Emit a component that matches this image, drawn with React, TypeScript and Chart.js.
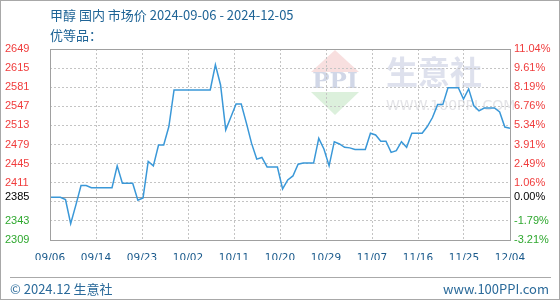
import React, { useEffect, useRef } from 'react';
import { Chart, registerables } from 'chart.js';

Chart.register(...registerables);

const TITLE = '甲醇 国内 市场价 2024-09-06 - 2024-12-05';
const SUBTITLE = '优等品：';
const FOOTER_LEFT = '© 2024.12 生意社';
const FOOTER_RIGHT = 'www.100PPI.com';

const X_LABELS = ['09/06', '09/14', '09/23', '10/02', '10/11', '10/20', '10/29', '11/07', '11/16', '11/25', '12/04'];

const PRICES = [
  2385, 2385, 2385, 2381, 2338, 2371, 2406, 2406, 2402, 2402,
  2402, 2402, 2402, 2441, 2410, 2410, 2410, 2380, 2384, 2449,
  2441, 2478, 2478, 2511, 2576, 2576, 2576, 2576, 2576, 2576,
  2576, 2576, 2621, 2585, 2505, 2528, 2551, 2551, 2517, 2481,
  2453, 2456, 2439, 2439, 2439, 2400, 2416, 2423, 2444, 2446,
  2446, 2446, 2490, 2471, 2441, 2484, 2480, 2474, 2473, 2470,
  2470, 2470, 2499, 2496, 2485, 2485, 2465, 2468, 2484, 2474,
  2499, 2499, 2499, 2511, 2527, 2550, 2550, 2580, 2580, 2580,
  2560, 2578, 2548, 2539, 2544, 2544, 2544, 2537, 2510, 2508,
];

const BASE_PRICE = 2385;
const Y_MIN = 2309;
const Y_MAX = 2649;
const Y_TICKS = [2649, 2615, 2581, 2547, 2513, 2479, 2445, 2411, 2385, 2343, 2309];
const PCT_LABELS = ['11.04%', '9.61%', '8.19%', '6.76%', '5.34%', '3.91%', '2.49%', '1.06%', '0.00%', '-1.79%', '-3.21%'];
const Y_GRID_EXTRA = [2377];

const RED = '#f03c3c';
const GREEN = '#2fa82f';
const BLACK = '#000000';
const BLUE_TEXT = '#1f6496';
const LINE_COLOR = '#3a98d8';
const GRID_COLOR = '#c4c4c4';
const FRAME_COLOR = '#a0a0a0';

const tickColor = (ctx: any) => {
  const v = ctx.tick ? ctx.tick.value : 0;
  if (v > BASE_PRICE) return RED;
  if (v < BASE_PRICE) return GREEN;
  return BLACK;
};

const allYTicks = () =>
  [...Y_TICKS, ...Y_GRID_EXTRA].sort((a, b) => a - b).map((v) => ({ value: v }));

const framePlugin = {
  id: 'frameAndWatermark',
  beforeDraw(chart: any) {
    const { ctx, chartArea } = chart;
    const L = chartArea.left;
    const T = chartArea.top;
    ctx.save();
    const cx = L + 285;
    ctx.fillStyle = 'rgba(242,196,196,0.55)';
    ctx.beginPath();
    ctx.moveTo(cx, T + 1);
    ctx.lineTo(cx - 24, T + 23);
    ctx.lineTo(cx + 24, T + 23);
    ctx.closePath();
    ctx.fill();
    ctx.fillStyle = 'rgba(196,230,196,0.6)';
    ctx.beginPath();
    ctx.moveTo(cx - 24, T + 43);
    ctx.lineTo(cx + 24, T + 43);
    ctx.lineTo(cx, T + 66);
    ctx.closePath();
    ctx.fill();
    ctx.fillStyle = 'rgba(204,211,228,0.9)';
    ctx.font = 'bold 23px "DejaVu Serif", serif';
    ctx.textAlign = 'center';
    ctx.textBaseline = 'middle';
    ctx.fillText('PPI', cx, T + 33);
    ctx.fillStyle = 'rgba(216,220,234,0.85)';
    ctx.font = 'bold 32px "Noto Sans CJK SC", sans-serif';
    ctx.textAlign = 'left';
    ctx.fillText('生意社', L + 336, T + 23);
    ctx.fillStyle = 'rgba(224,224,228,0.9)';
    ctx.font = '14px "DejaVu Sans", sans-serif';
    ctx.fillText('WWW.100PPI.COM', L + 336, T + 57);
    ctx.restore();
  },
  afterDraw(chart: any) {
    const { ctx, chartArea } = chart;
    ctx.save();
    ctx.strokeStyle = FRAME_COLOR;
    ctx.lineWidth = 1;
    ctx.strokeRect(
      Math.round(chartArea.left) + 0.5,
      Math.round(chartArea.top) + 0.5,
      Math.round(chartArea.right - chartArea.left),
      Math.round(chartArea.bottom - chartArea.top)
    );
    ctx.restore();
  },
};

export default function App() {
  const canvasRef = useRef<HTMLCanvasElement | null>(null);

  useEffect(() => {
    if (!canvasRef.current) return;
    const n = PRICES.length;
    const chart = new Chart(canvasRef.current, {
      type: 'line',
      data: {
        datasets: [
          {
            data: PRICES.map((y, i) => ({ x: i, y })),
            borderColor: LINE_COLOR,
            borderWidth: 1.5,
            pointRadius: 0,
            tension: 0,
            fill: false,
          },
        ],
      },
      options: {
        animation: false,
        responsive: false,
        devicePixelRatio: 1,
        layout: { padding: { left: 5, right: 0, top: 49, bottom: 40 } },
        plugins: {
          legend: { display: false },
          tooltip: { enabled: false },
        },
        scales: {
          x: {
            type: 'linear',
            position: 'bottom',
            min: 0,
            max: n - 1,
            afterBuildTicks: (scale: any) => {
              scale.ticks = X_LABELS.map((_, k) => ({ value: (k * (n - 1)) / (X_LABELS.length - 1) }));
            },
            afterFit: (scale: any) => {
              scale.height = 20;
            },
            ticks: {
              autoSkip: false,
              maxRotation: 0,
              padding: 12,
              color: '#1a5a8c',
              font: { family: '"DejaVu Sans", sans-serif', size: 10.5 },
              callback: (_v: any, idx: number) => X_LABELS[idx],
            },
            grid: { color: GRID_COLOR, drawTicks: false, lineWidth: 1 },
            border: { display: false, dash: [2, 2] },
          },
          y: {
            type: 'linear',
            position: 'left',
            min: Y_MIN,
            max: Y_MAX,
            afterBuildTicks: (scale: any) => {
              scale.ticks = allYTicks();
            },
            afterFit: (scale: any) => {
              scale.width = 45;
            },
            ticks: {
              autoSkip: false,
              crossAlign: 'far',
              padding: 4,
              color: tickColor,
              font: { family: '"Liberation Sans", Arial, sans-serif', size: 11 },
              callback: (v: any) => (Y_TICKS.includes(v) ? String(v) : ''),
            },
            grid: {
              drawTicks: false,
              color: (ctx: any) => (ctx.tick && ctx.tick.value === BASE_PRICE ? 'rgba(0,0,0,0)' : GRID_COLOR),
            },
            border: { display: false, dash: [2, 2] },
          },
          y2: {
            type: 'linear',
            position: 'right',
            min: Y_MIN,
            max: Y_MAX,
            afterBuildTicks: (scale: any) => {
              scale.ticks = allYTicks();
            },
            afterFit: (scale: any) => {
              scale.width = 50;
            },
            ticks: {
              autoSkip: false,
              padding: 4,
              color: tickColor,
              font: { family: '"Liberation Sans", Arial, sans-serif', size: 11 },
              callback: (v: any) => {
                const k = Y_TICKS.indexOf(v);
                return k >= 0 ? PCT_LABELS[k] : '';
              },
            },
            grid: {
              drawTicks: false,
              lineWidth: 1,
              color: (ctx: any) => (ctx.tick && ctx.tick.value === BASE_PRICE ? '#9a9a9a' : 'rgba(0,0,0,0)'),
            },
            border: { display: false },
          },
        },
      } as any,
      plugins: [framePlugin],
    });
    return () => chart.destroy();
  }, []);

  const textFont = '"Noto Sans CJK SC", "Noto Sans", sans-serif';

  return (
    <div style={{ position: 'absolute', left: 0, top: 0, width: 560, height: 300, background: '#fff', overflow: 'hidden' }}>
      <canvas ref={canvasRef} width={560} height={300} style={{ position: 'absolute', left: 0, top: 0, display: 'block' }} />
      <div style={{ position: 'absolute', left: 50, top: 6, fontFamily: textFont, fontSize: 13, lineHeight: '18px', color: BLUE_TEXT, whiteSpace: 'nowrap' }}>
        {TITLE}
      </div>
      <div style={{ position: 'absolute', left: 50, top: 26, fontFamily: textFont, fontSize: 13, lineHeight: '18px', color: BLUE_TEXT, whiteSpace: 'nowrap' }}>
        {SUBTITLE}
      </div>
      <div style={{ position: 'absolute', left: 10, top: 277, width: 541, height: 0, borderTop: '1px solid #aaaaaa' }} />
      <div style={{ position: 'absolute', left: 10, top: 280, fontFamily: textFont, fontSize: 13, lineHeight: '18px', color: '#2a6a9a', whiteSpace: 'nowrap' }}>
        {FOOTER_LEFT}
      </div>
      <div style={{ position: 'absolute', right: 11, top: 280, fontFamily: textFont, fontSize: 13, lineHeight: '18px', color: '#2a6a9a', whiteSpace: 'nowrap' }}>
        {FOOTER_RIGHT}
      </div>
      <div style={{ position: 'absolute', left: 0, top: 0, width: 560, height: 300, boxSizing: 'border-box', border: '1px solid #a8a8a8', pointerEvents: 'none' }} />
    </div>
  );
}
